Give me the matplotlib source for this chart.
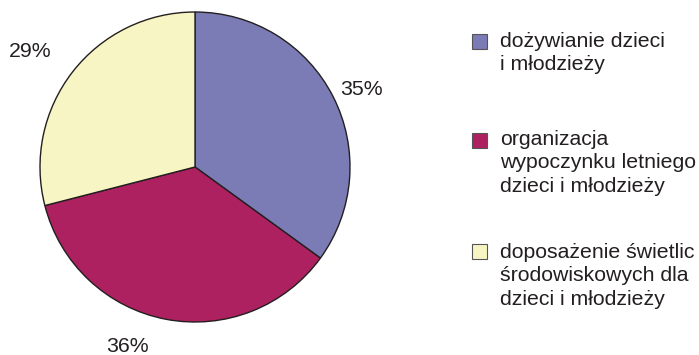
import matplotlib
matplotlib.use("Agg")
import matplotlib.pyplot as plt
from matplotlib.patches import Rectangle

plt.rcParams['font.family'] = ['Liberation Sans', 'DejaVu Sans']

categories = ["dożywianie dzieci\ni młodzieży",
              "organizacja\nwypoczynku letniego\ndzieci i młodzieży",
              "doposażenie świetlic\nśrodowiskowych dla\ndzieci i młodzieży"]
values = [35, 36, 29]
colors = ["#7b7bb5", "#ae2160", "#f8f5c4"]
label_pos = [(1.071, 0.503), (-0.439, -1.155), (-1.065, 0.742)]

W, H = 699, 355
TXT = '#231f20'
FS = 15.3
fig = plt.figure(figsize=(W / 100, H / 100), dpi=100)
cx, cy, r = 195, 167, 155
ax = fig.add_axes([(cx - r) / W, (H - cy - r) / H, 2 * r / W, 2 * r / H])
wedges, texts, autotexts = ax.pie(
    values, colors=colors, startangle=90, counterclock=False,
    autopct='%d%%', pctdistance=1.2,
    wedgeprops=dict(edgecolor=TXT, linewidth=1.0),
    textprops=dict(fontsize=FS, color=TXT))
for t, p in zip(autotexts, label_pos):
    t.set_position(p)
    t.set_clip_on(False)
ax.set_aspect('equal')
ax.set_xlim(-1, 1)
ax.set_ylim(-1, 1)

baselines = [47, 145, 258]
sq_top = [33.5, 133, 244]
for cat, col, b, st in zip(categories, colors, baselines, sq_top):
    fig.patches.append(Rectangle((472 / W, (H - st - 15) / H), 15 / W, 15 / H,
                                 transform=fig.transFigure, facecolor=col,
                                 edgecolor='#555555', linewidth=0.8))
    for i, line in enumerate(cat.split('\n')):
        fig.text(500 / W, (H - b - i * 23.4) / H, line, fontsize=FS, color=TXT,
                 va='baseline', ha='left')

fig.savefig("out.png", dpi=100)
